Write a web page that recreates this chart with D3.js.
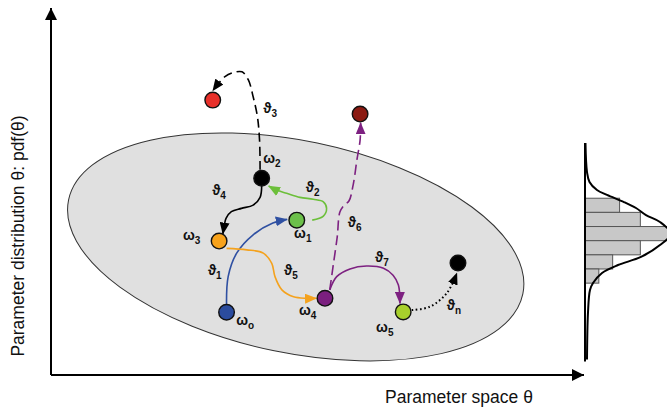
<!DOCTYPE html>
<html>
<head>
<meta charset="utf-8">
<script src="https://cdn.jsdelivr.net/npm/d3@7"></script>
<style>
  html, body { margin: 0; padding: 0; background: #fff; }
  svg { display: block; }
  text { font-family: Arial, "Liberation Sans", "DejaVu Sans", sans-serif; fill: #111; }
</style>
</head>
<body>
<svg id="chart" width="667" height="407"></svg>
<script>
// ---- Data: states in parameter space (θ on x, pdf level on y, 0–100 units) ----
const stateNames = ["ωo", "ω1", "ω2", "ω3", "ω4", "ω5", "ωn", "rejected A", "rejected B"];
const stateTheta = [33.0, 46.2, 39.6, 31.6, 51.5, 66.2, 76.5, 30.4, 58.1];
const statePdf   = [17.1, 42.2, 53.6, 36.5, 20.9, 17.2, 30.5, 74.9, 71.1];

// Transition paths ϑ between states, as waypoints in the same units
const stepNames = ["ϑ1", "ϑ2", "ϑ3", "ϑ4", "ϑ5", "ϑ6", "ϑ7", "ϑn"];
const stepPaths = [
  [[33.0,18.6],[33.3,26.8],[34.9,33.2],[38.0,38.2],[41.7,41.4],[44.4,42.4]],
  [[49.1,42.2],[51.2,43.3],[51.8,45.4],[51.2,47.2],[49.3,47.9],[46.8,48.4],[44.3,49.5],[42.4,50.4],[40.9,51.5]],
  [[39.3,55.9],[39.2,64.0],[38.8,70.4],[38.0,75.8],[37.1,80.4],[35.9,82.6],[34.3,82.4],[32.7,81.3],[31.5,79.5],[30.4,77.4]],
  [[39.6,51.6],[39.3,48.4],[38.0,46.3],[35.8,45.4],[33.9,44.5],[32.9,42.7],[32.6,40.9],[32.3,38.4]],
  [[33.0,34.5],[36.8,34.1],[39.9,33.2],[41.5,30.4],[42.1,26.8],[43.4,23.2],[45.6,21.3],[48.1,20.9],[49.9,20.9]],
  [[52.4,23.2],[53.0,29.4],[53.8,37.6],[54.3,44.4],[55.1,46.3],[56.0,47.4],[56.8,51.8],[57.5,58.6],[58.1,64.0],[58.2,68.7]],
  [[52.4,23.2],[53.7,26.8],[56.2,28.9],[59.3,29.7],[62.5,29.1],[64.3,27.2],[65.3,24.5],[65.6,19.5]],
  [[67.8,17.7],[71.2,18.6],[74.4,22.3],[76.3,27.8]]
];

// Annotation labels: symbol, subscript, anchor (left, baseline) in data units
const labelSymbols = ["ω","ϑ","ϑ","ϑ","ω","ω","ϑ","ϑ","ϑ","ϑ","ϑ","ω","ω","ω"];
const labelSubs    = ["2","3","4","2","3","1","1","5","6","7","n","4","o","5"];
const labelTheta   = [39.9, 39.9, 30.3, 47.9, 24.8, 45.7, 29.5, 43.8, 55.8, 60.9, 74.4, 46.6, 34.8, 61.1];
const labelPdf     = [57.8, 71.4, 49.1, 49.9, 36.8, 37.3, 27.3, 27.3, 40.3, 30.8, 17.7, 16.4, 13.6, 11.7];

// Feasible region (ellipse) in data units, tilt in degrees
const regionCenter = [46.0, 34.9];
const regionRadii  = [43.6, 28.9];
const regionTilt   = 11.7;

// Marginal distribution of θ: histogram bins (edges, top to bottom) and counts
const binEdges  = [2.5, 1.5, 0.5, -0.5, -1.5, -2.5, -3.5];
const binCounts = [5, 8, 12, 8, 4, 2];
// Fitted density curve
const pdfTheta   = [6.4, 4.35, 3.65, 3.08, 2.73, 2.23, 1.81, 1.31, 0.82, 0, -0.81, -1.65, -2.22, -2.78, -3.49, -3.99, -5.6, -8.9];
const pdfDensity = [0.07, 0.29, 0.65, 1.73, 3.18, 5.64, 7.37, 8.82, 10.84, 12.4, 10.84, 8.09, 4.77, 2.46, 1.16, 0.72, 0.43, 0.29];

// ---- Styles ----
const stateFill = ["#2b4c9e", "#6cc04a", "#000000", "#f7a21b", "#7b1f7f", "#a8d02c", "#000000", "#e8302a", "#8b1a12"];
const stepColor = ["#2f50a2", "#6cbf3a", "#000000", "#000000", "#f4a21e", "#7d2181", "#7d2181", "#000000"];
const stepDash  = [null, null, "9,5", null, null, "10,5", null, "1.6,2.6"];
const stepWidth = [1.6, 1.6, 1.6, 1.6, 1.6, 1.6, 1.6, 2];

const svg = d3.select("#chart");
const x = d3.scaleLinear().domain([0, 100]).range([51, 583]);
const y = d3.scaleLinear().domain([0, 100]).range([375, 8]);

// Arrowhead markers, one per colour
const defs = svg.append("defs");
const markerColors = Array.from(new Set(stepColor));
function markerId(c) { return "arrow" + c.replace("#", ""); }
markerColors.forEach(c => {
  defs.append("marker")
    .attr("id", markerId(c))
    .attr("viewBox", "0 0 12 10")
    .attr("refX", 11.5).attr("refY", 5)
    .attr("markerWidth", 12).attr("markerHeight", 10)
    .attr("markerUnits", "userSpaceOnUse")
    .attr("orient", "auto")
    .append("path").attr("d", "M0,0L12,5L0,10Z").attr("fill", c);
});
defs.append("marker")
  .attr("id", "axisArrow")
  .attr("viewBox", "0 0 12 12")
  .attr("refX", 12).attr("refY", 6)
  .attr("markerWidth", 12).attr("markerHeight", 12)
  .attr("markerUnits", "userSpaceOnUse")
  .attr("orient", "auto")
  .append("path").attr("d", "M0,0L12,6L0,12Z").attr("fill", "#000");

// Feasible region
const rx = x(regionCenter[0] + regionRadii[0]) - x(regionCenter[0]);
const ry = y(regionCenter[1]) - y(regionCenter[1] + regionRadii[1]);
svg.append("ellipse")
  .attr("cx", 0).attr("cy", 0).attr("rx", rx).attr("ry", ry)
  .attr("transform", `translate(${x(regionCenter[0])},${y(regionCenter[1])}) rotate(${regionTilt})`)
  .attr("fill", "#e0e0e0").attr("stroke", "#333").attr("stroke-width", 1);

// Axes
svg.append("line")
  .attr("x1", x(0)).attr("y1", y(0)).attr("x2", x(0)).attr("y2", y(100))
  .attr("stroke", "#000").attr("stroke-width", 2).attr("marker-end", "url(#axisArrow)");
svg.append("line")
  .attr("x1", x(0)).attr("y1", y(0)).attr("x2", x(100) + 1).attr("y2", y(0))
  .attr("stroke", "#000").attr("stroke-width", 2).attr("marker-end", "url(#axisArrow)");

svg.append("text")
  .attr("x", 459).attr("y", 403)
  .attr("text-anchor", "middle").attr("font-size", 17.5)
  .text("Parameter space θ");
svg.append("text")
  .attr("transform", "translate(24,236) rotate(-90)")
  .attr("text-anchor", "middle").attr("font-size", 17.5)
  .text("Parameter distribution θ: pdf(θ)");

// Transition paths
const line = d3.line().x(d => x(d[0])).y(d => y(d[1])).curve(d3.curveCatmullRom.alpha(0.5));
svg.append("g").selectAll("path")
  .data(stepPaths)
  .join("path")
  .attr("d", line)
  .attr("fill", "none")
  .attr("stroke", (d, i) => stepColor[i])
  .attr("stroke-width", (d, i) => stepWidth[i])
  .attr("stroke-dasharray", (d, i) => stepDash[i])
  .attr("marker-end", (d, i) => `url(#${markerId(stepColor[i])})`);

// States
svg.append("g").selectAll("circle")
  .data(stateNames)
  .join("circle")
  .attr("cx", (d, i) => x(stateTheta[i]))
  .attr("cy", (d, i) => y(statePdf[i]))
  .attr("r", 7.8)
  .attr("fill", (d, i) => stateFill[i])
  .attr("stroke", "#111").attr("stroke-width", 1.4);

// Labels
const lab = svg.append("g").selectAll("text")
  .data(labelSymbols)
  .join("text")
  .attr("x", (d, i) => x(labelTheta[i]))
  .attr("y", (d, i) => y(labelPdf[i]))
  .attr("font-size", 14).attr("font-weight", "bold");
lab.append("tspan").text(d => d);
lab.append("tspan").attr("font-size", 10).attr("dy", 4).text((d, i) => labelSubs[i]);

// Marginal histogram of θ with fitted density
const hy = d3.scaleLinear().domain([-9, 6.5]).range([361, 141.6]);
const hx = d3.scaleLinear().domain([0, 12]).range([585, 668]);
const hist = svg.append("g");
hist.selectAll("rect")
  .data(binCounts)
  .join("rect")
  .attr("x", hx(0))
  .attr("y", (d, i) => hy(binEdges[i]))
  .attr("width", d => hx(d) - hx(0))
  .attr("height", (d, i) => hy(binEdges[i + 1]) - hy(binEdges[i]))
  .attr("fill", "#c8c8c8").attr("stroke", "#555").attr("stroke-width", 1);
hist.append("line")
  .attr("x1", hx(0)).attr("x2", hx(0))
  .attr("y1", hy(pdfTheta[0])).attr("y2", hy(pdfTheta[pdfTheta.length - 1]) + 2)
  .attr("stroke", "#000").attr("stroke-width", 2);
hist.append("path")
  .datum(pdfTheta.map((t, i) => [pdfDensity[i], t]))
  .attr("d", d3.line().x(d => hx(d[0])).y(d => hy(d[1])).curve(d3.curveCatmullRom.alpha(0.5)))
  .attr("fill", "none").attr("stroke", "#000").attr("stroke-width", 2);
</script>
</body>
</html>
